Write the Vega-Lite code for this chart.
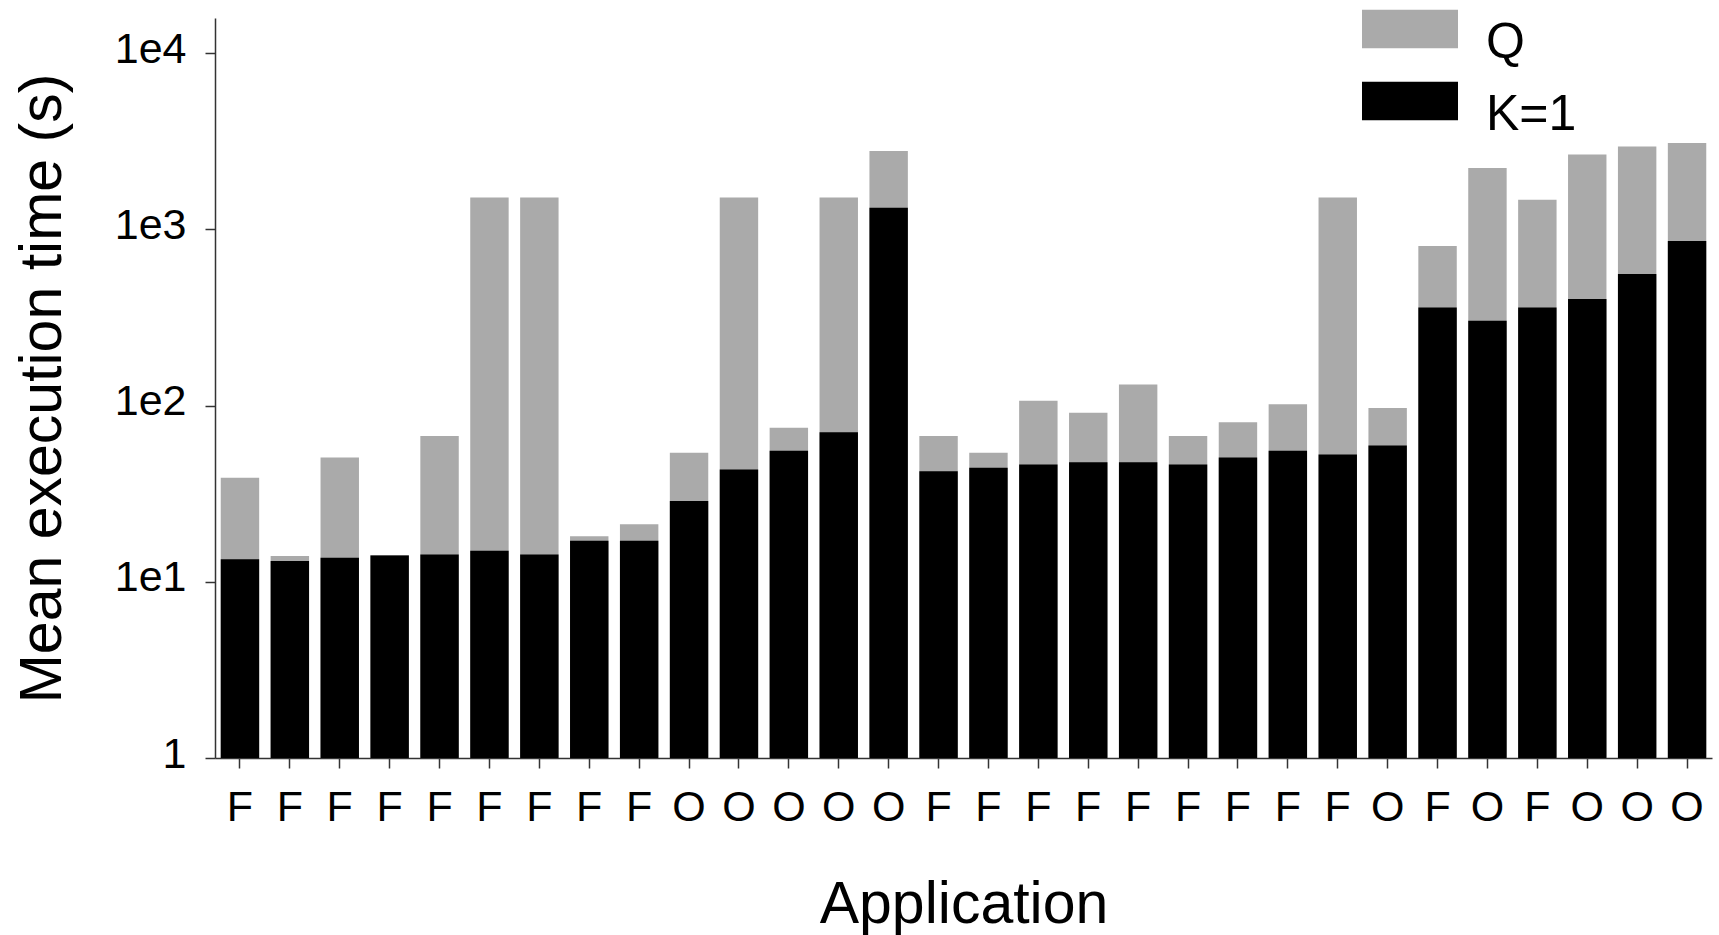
{
  "$schema": "https://vega.github.io/schema/vega-lite/v6.json",
  "width": 1497,
  "height": 740,
  "autosize": {"type": "none"},
  "padding": {"left": 215, "top": 18, "right": 7, "bottom": 177},
  "background": "white",
  "config": {
    "view": {"stroke": null},
    "font": "Liberation Sans",
    "axis": {
      "grid": false,
      "domainColor": "#333333",
      "domainWidth": 1.5,
      "tickColor": "#333333",
      "tickWidth": 1.5,
      "tickSize": 10,
      "labelColor": "#000000",
      "titleColor": "#000000",
      "labelFont": "Liberation Sans",
      "titleFont": "Liberation Sans",
      "titleFontWeight": "normal",
      "labelFontSize": 43,
      "titleFontSize": 59
    }
  },
  "data": {
    "values": [
      {"id": "01", "app": "F", "Q": 38.9, "K=1": 13.4},
      {"id": "02", "app": "F", "Q": 14.0, "K=1": 13.1},
      {"id": "03", "app": "F", "Q": 50.7, "K=1": 13.7},
      {"id": "04", "app": "F", "Q": 14.2, "K=1": 14.1},
      {"id": "05", "app": "F", "Q": 67.2, "K=1": 14.3},
      {"id": "06", "app": "F", "Q": 1512, "K=1": 15.0},
      {"id": "07", "app": "F", "Q": 1512, "K=1": 14.3},
      {"id": "08", "app": "F", "Q": 18.1, "K=1": 17.1},
      {"id": "09", "app": "F", "Q": 21.2, "K=1": 17.1},
      {"id": "10", "app": "O", "Q": 54.0, "K=1": 28.7},
      {"id": "11", "app": "O", "Q": 1512, "K=1": 43.4},
      {"id": "12", "app": "O", "Q": 74.9, "K=1": 55.3},
      {"id": "13", "app": "O", "Q": 1512, "K=1": 70.4},
      {"id": "14", "app": "O", "Q": 2780, "K=1": 1324},
      {"id": "15", "app": "F", "Q": 67.2, "K=1": 42.4},
      {"id": "16", "app": "F", "Q": 54.0, "K=1": 44.4},
      {"id": "17", "app": "F", "Q": 106.4, "K=1": 46.2},
      {"id": "18", "app": "F", "Q": 91.0, "K=1": 47.6},
      {"id": "19", "app": "F", "Q": 131.5, "K=1": 47.6},
      {"id": "20", "app": "F", "Q": 67.2, "K=1": 46.2},
      {"id": "21", "app": "F", "Q": 80.4, "K=1": 50.7},
      {"id": "22", "app": "F", "Q": 101.6, "K=1": 55.3},
      {"id": "23", "app": "F", "Q": 1512, "K=1": 52.7},
      {"id": "24", "app": "O", "Q": 96.9, "K=1": 59.3},
      {"id": "25", "app": "F", "Q": 804, "K=1": 359.7},
      {"id": "26", "app": "O", "Q": 2226, "K=1": 303},
      {"id": "27", "app": "F", "Q": 1472, "K=1": 360},
      {"id": "28", "app": "O", "Q": 2659, "K=1": 402},
      {"id": "29", "app": "O", "Q": 2951, "K=1": 557},
      {"id": "30", "app": "O", "Q": 3085, "K=1": 858}
    ]
  },
  "transform": [
    {"fold": ["Q", "K=1"], "as": ["series", "time"]}
  ],
  "mark": {"type": "bar"},
  "encoding": {
    "x": {
      "field": "id",
      "type": "nominal",
      "sort": null,
      "scale": {"paddingInner": 0.23, "paddingOuter": 0.115},
      "axis": {
        "title": "Application",
        "labelAngle": 0,
        "labelPadding": 18,
        "titlePadding": 46,
        "labelExpr": "datum.value == '10' || datum.value == '11' || datum.value == '12' || datum.value == '13' || datum.value == '14' || datum.value == '24' || datum.value == '26' || datum.value == '28' || datum.value == '29' || datum.value == '30' ? 'O' : 'F'"
      }
    },
    "y": {
      "field": "time",
      "type": "quantitative",
      "stack": null,
      "scale": {"type": "log", "domain": [1, 15800], "nice": false},
      "axis": {
        "title": "Mean execution time (s)",
        "values": [1, 10, 100, 1000, 10000],
        "labelExpr": "datum.value == 1 ? '1' : '1e' + round(log(datum.value) / LN10)",
        "labelPadding": 19,
        "labelOffset": -4,
        "titlePadding": 42
      }
    },
    "color": {
      "field": "series",
      "type": "nominal",
      "scale": {"domain": ["Q", "K=1"], "range": ["#aaaaaa", "#000000"]},
      "legend": {
        "title": null,
        "orient": "none",
        "legendX": 1170,
        "legendY": -14,
        "symbolType": "M-2,-0.8H2V0.8H-2Z",
        "symbolSize": 2304,
        "symbolStrokeWidth": 0,
        "symbolOpacity": 1,
        "labelFontSize": 50,
        "labelFont": "Liberation Sans",
        "labelColor": "#000000",
        "labelOffset": 51,
        "labelBaseline": "middle",
        "rowPadding": 8,
        "padding": 0,
        "encode": {"labels": {"update": {"dy": {"value": 14}}}}
      }
    }
  }
}
